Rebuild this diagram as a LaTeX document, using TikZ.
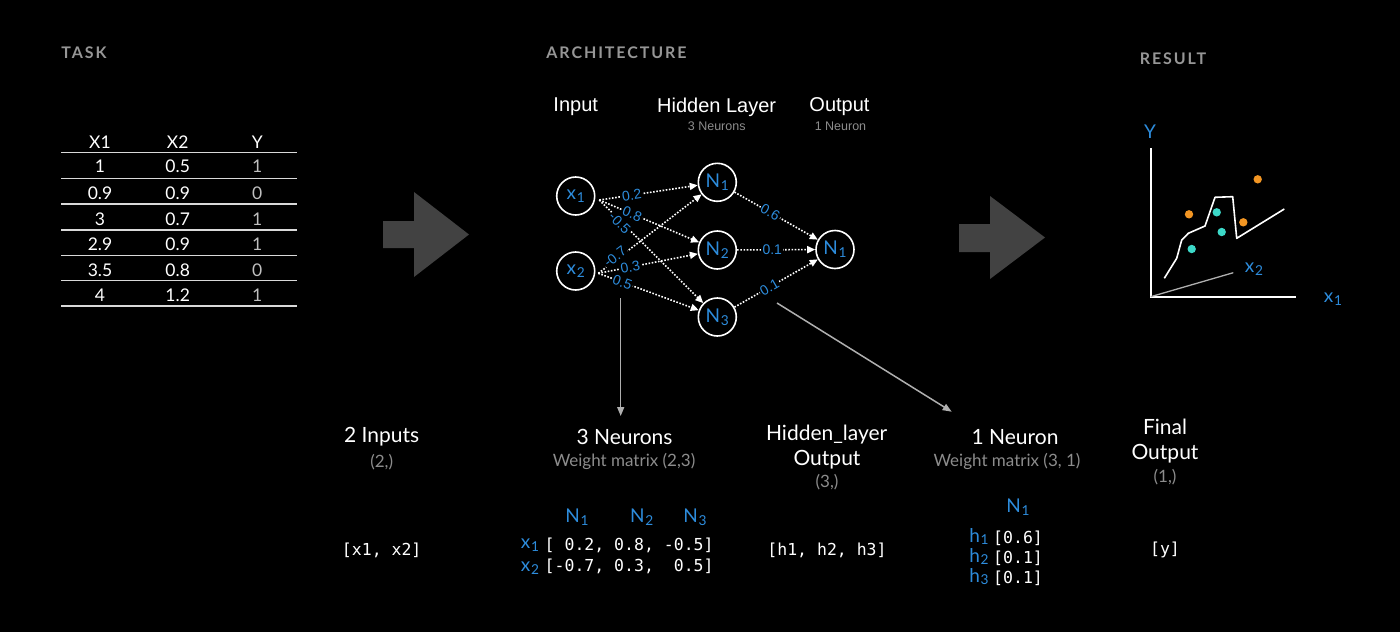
\documentclass[tikz,border=0pt]{standalone}
\usepackage{fontspec}
\setmainfont{Lato}
\newfontfamily\hel{Liberation Sans}
\newfontfamily\mono{DejaVu Sans Mono}
\newfontfamily\headf[LetterSpace=12]{Lato}
\usetikzlibrary{arrows.meta}
\definecolor{myblue}{RGB}{45,140,220}
\definecolor{headgray}{RGB}{150,150,150}
\definecolor{subgray}{RGB}{140,140,140}
\definecolor{biggray}{RGB}{66,66,66}
\definecolor{lngray}{RGB}{175,175,175}
\definecolor{teal}{RGB}{60,216,200}
\definecolor{orng}{RGB}{243,150,35}
\newcommand\fs[1]{\fontsize{#1}{#1}\selectfont}
\newcommand\subl[2]{#1\kern0.04em\raisebox{-0.14em}{\scalebox{0.72}{#2}}}
\begin{document}
\begin{tikzpicture}[x=1pt,y=-1pt,
  every node/.style={inner sep=0pt, text=white},
  head/.style={text=headgray, font=\headf\bfseries\fs{16}},
  cell/.style={font=\fs{17.5}},
  ycell/.style={font=\fs{17.5}, text=lightgray},
  tline/.style={draw=white!85!black, line width=1.2pt},
  neuron/.style={circle, draw=white, line width=1.6pt, minimum size=38pt, text=myblue, font=\fs{19}},
  wedge/.style={white, line width=1.6pt, dash pattern=on 1.6pt off 1.6pt, -{Triangle[length=8pt,width=7pt]}},
  wlab/.style={text=myblue, font=\hel\fs{14}, fill=black, inner sep=1.2pt, sloped},
  garrow/.style={lngray, line width=1.5pt, -{Triangle[length=9pt,width=7pt]}},
  ttl/.style={font=\hel\fs{20}},
  sub/.style={font=\hel\fs{12.5}, text=subgray},
  big/.style={font=\fs{21}},
  small/.style={font=\fs{17}, text=subgray},
  code/.style={font=\mono\fs{16.5}},
  bl/.style={text=myblue, font=\fs{19}},
]
\fill[black] (0,0) rectangle (1400,632);
\useasboundingbox (0,0) rectangle (1400,632);

% headings
\node[head] (hTask) at (84,53) {TASK};
\node[head] (hArch) at (616.5,53) {ARCHITECTURE};
\node[head] (hRes) at (1173,59) {RESULT};

% table
\node[cell] (tX1) at (100,142) {X1};
\node[cell] (tX2) at (177.7,142) {X2};
\node[cell] (tY) at (257.3,142) {Y};
\foreach \y in {152.3,178.3,204,230,255.3,280.7,306}{\draw[tline] (61,\y) -- (296.5,\y);}
\foreach \a/\b/\c/\y/\i in {1/0.5/1/166.7/1, 0.9/0.9/0/193.3/2, 3/0.7/1/219/3, 2.9/0.9/1/244.3/4, 3.5/0.8/0/270/5, 4/1.2/1/295.7/6}{
  \node[cell] (ra\i) at (100,\y) {\a};
  \node[cell] (rb\i) at (177.7,\y) {\b};
  \node[ycell] (rc\i) at (257.3,\y) {\c};
}

% big arrows
\fill[biggray] (383,221) -- (414,221) -- (414,192) -- (469,234.5) -- (414,277) -- (414,248) -- (383,248) -- cycle;
\fill[biggray] (959,224) -- (990,224) -- (990,196) -- (1045,237.5) -- (990,279) -- (990,252) -- (959,252) -- cycle;

% network titles
\node[ttl] (lIn) at (575.7,107) {Input};
\node[ttl] (lHid) at (716.7,107) {Hidden Layer};
\node[sub] (lHidS) at (716.7,126.5) {3 Neurons};
\node[ttl] (lOut) at (839.5,107) {Output};
\node[sub] (lOutS) at (840.5,126.5) {1 Neuron};

% neurons
\node[neuron] (x1) at (575.7,196) {\subl{x}{1}};
\node[neuron] (x2) at (575.7,271) {\subl{x}{2}};
\node[neuron] (h1) at (717.3,182.3) {\subl{N}{1}};
\node[neuron] (h2) at (717.3,250) {\subl{N}{2}};
\node[neuron] (h3) at (717.3,317) {\subl{N}{3}};
\node[neuron] (o1) at (835,249.5) {\subl{N}{1}};

\coordinate (f1) at (599.3,200);
\coordinate (f2) at (598.3,273.3);
\draw[wedge] (f1) -- node[wlab,pos=.33] (w11) {0.2} (h1);
\draw[wedge] (f1) -- node[wlab,pos=.33] (w12) {0.8} (h2);
\draw[wedge] (f1) -- node[wlab,pos=.21,yshift=-2pt] (w13) {-0.5} (h3);
\draw[wedge] (f2) -- node[wlab,pos=.18,yshift=3pt] (w21) {-0.7} (h1);
\draw[wedge] (f2) -- node[wlab,pos=.32] (w22) {0.3} (h2);
\draw[wedge] (f2) -- node[wlab,pos=.24] (w23) {0.5} (h3);
\draw[wedge] (h1) -- node[wlab,pos=.43] (v1) {0.6} (o1);
\draw[wedge] (h2) -- node[wlab,pos=.45] (v2) {0.1} (o1);
\draw[wedge] (h3) -- node[wlab,pos=.42] (v3) {0.1} (o1);

% long arrows
\coordinate (a1s) at (620.7,298);
\coordinate (a1e) at (620.7,416);
\draw[garrow] (a1s) -- (a1e);
\coordinate (a2s) at (777,303);
\coordinate (a2e) at (951.7,411.7);
\draw[garrow] (a2s) -- (a2e);

% result plot
\node[text=myblue, font=\fs{19}] (pY) at (1150,131.5) {Y};
\node[text=myblue, font=\fs{19}] (pX1) at (1333,299.3) {\subl{x}{1}};
\node[text=myblue, font=\fs{19}] (pX2) at (1254,269.3) {\subl{x}{2}};
\draw[white, line width=1.6pt] (1150.7,148.3) -- (1150.7,296.7) -- (1296,296.7);
\draw[lngray, line width=1.3pt] (1150.7,296.7) -- (1233.3,272.7);
\draw[white, line width=1.6pt, line join=round] (1164.3,278.3) -- (1176.7,258.3) -- (1181.7,240) -- (1188.3,233.3) -- (1205,226) -- (1215,197.3) -- (1232.7,196.7) -- (1236.7,238.3) -- (1284.3,209);
\fill[orng] (1189,214.3) circle (4.2) (1257.7,179.3) circle (4.2) (1243.3,222.3) circle (4.2);
\fill[teal] (1216.7,212.3) circle (4.2) (1221.7,232) circle (4.2) (1191.7,249) circle (4.2);

% bottom row
\node[big] (bIn) at (381.7,437) {2 Inputs};
\node[small] (bInS) at (381.7,461.7) {(2,)};
\node[code] (bInV) at (381.7,550) {[x1, x2]};

\node[big] (bN3) at (624.5,437) {3 Neurons};
\node[small] (bN3S) at (624,461.5) {Weight matrix (2,3)};
\node[bl] (mN1) at (577,517.3) {\subl{N}{1}};
\node[bl] (mN2) at (641.7,517.3) {\subl{N}{2}};
\node[bl] (mN3) at (695,517.3) {\subl{N}{3}};
\node[bl] (mx1) at (530,545) {\subl{x}{1}};
\node[bl] (mx2) at (530,568) {\subl{x}{2}};
\node[code, anchor=west] (mr1) at (544.5,545) {[~0.2, 0.8, -0.5]};
\node[code, anchor=west] (mr2) at (544.5,566) {[-0.7, 0.3,~~0.5]};

\node[big] (bHo1) at (826.7,435) {Hidden\_layer};
\node[big] (bHo2) at (827,460) {Output};
\node[small] (bHoS) at (827,481.7) {(3,)};
\node[code] (bHoV) at (827,550) {[h1, h2, h3]};

\node[big] (bN1) at (1015,437.3) {1 Neuron};
\node[small] (bN1S) at (1007,461.7) {Weight matrix (3, 1)};
\node[bl] (nN1) at (1018,507) {\subl{N}{1}};
\node[bl] (nh1) at (979,536.5) {\subl{h}{1}};
\node[bl] (nh2) at (979,556.5) {\subl{h}{2}};
\node[bl] (nh3) at (979,576.5) {\subl{h}{3}};
\node[code, anchor=west] (nv1) at (993,538.3) {[0.6]};
\node[code, anchor=west] (nv2) at (993,558) {[0.1]};
\node[code, anchor=west] (nv3) at (993,578) {[0.1]};

\node[big] (bF1) at (1165,426.7) {Final};
\node[big] (bF2) at (1165,453.3) {Output};
\node[small] (bFS) at (1165,476.7) {(1,)};
\node[code] (bFV) at (1165,550) {[y]};
\end{tikzpicture}
\end{document}
